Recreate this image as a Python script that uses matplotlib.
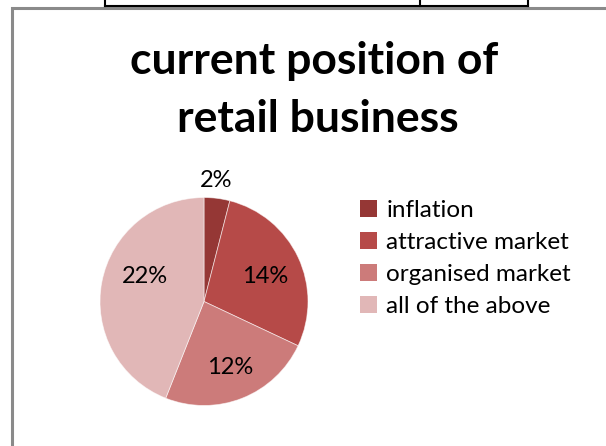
import numpy as np
import matplotlib
matplotlib.use("Agg")
import matplotlib.pyplot as plt
from matplotlib.patches import Rectangle
from matplotlib.lines import Line2D

# Survey responses
categories = ["inflation", "attractive market", "organised market", "all of the above"]
values = [2, 14, 12, 22]
colors = ["#953735", "#B64A48", "#CC7B7A", "#E1B7B7"]

title_lines = ["current position of", "retail business"]

# Label placement: (radius as fraction of pie radius, angular nudge in degrees)
label_place = [(1.17, 1.6), (0.635, -2.5), (0.68, 0.0), (0.62, -12.2)]

W, H = 606, 446
fig = plt.figure(figsize=(W / 100, H / 100), dpi=100)
fig.patch.set_facecolor("white")

def fx(px):
    return px / W

def fy(py):
    return 1 - py / H

# Spreadsheet table borders peeking in at the top
for x in (105, 420, 528):
    fig.add_artist(Line2D([fx(x), fx(x)], [fy(-2), fy(5.5)], color="black", lw=1.5,
                          transform=fig.transFigure))
fig.add_artist(Line2D([fx(105), fx(528)], [fy(5.5), fy(5.5)], color="black", lw=1.5,
                      transform=fig.transFigure))

# Chart area frame
fig.add_artist(Rectangle((fx(12), fy(460)), fx(620) - fx(12), fy(8) - fy(460),
                         transform=fig.transFigure, fill=False,
                         edgecolor="#8A8A8A", lw=2.2))

font = "Lato"

fig.text(fx(314), fy(74), title_lines[0], ha="center", va="baseline",
         fontsize=32, fontweight="bold", family=font)
fig.text(fx(318), fy(132), title_lines[1], ha="center", va="baseline",
         fontsize=32, fontweight="bold", family=font)

# Pie
cx, cy, r = 204, 301.5, 104
ax = fig.add_axes([fx(cx - r), fy(cy + r), 2 * r / W, 2 * r / H])
wedges, _ = ax.pie(values, colors=colors, startangle=90, counterclock=False,
                   radius=1.0, wedgeprops=dict(edgecolor=(1, 1, 1, 0.6), linewidth=0.6))
ax.set_xlim(-1, 1)
ax.set_ylim(-1, 1)
ax.set_axis_off()

for w, v, (rd, nudge) in zip(wedges, values, label_place):
    mid = np.deg2rad((w.theta1 + w.theta2) / 2 + nudge)
    ax.text(rd * np.cos(mid), rd * np.sin(mid), f"{v}%", ha="center", va="center",
            fontsize=17, family=font, clip_on=False)

# Legend
leg = fig.legend(wedges, categories, loc="upper left",
                 bbox_to_anchor=(fx(350), fy(190)), frameon=False,
                 prop=dict(family=font, size=17.5), handlelength=0.7, handleheight=0.7,
                 handletextpad=0.4, labelspacing=0.46, borderaxespad=0)
for h in leg.legend_handles:
    h.set_edgecolor("none")

fig.savefig("out.png", dpi=100, facecolor="white")
